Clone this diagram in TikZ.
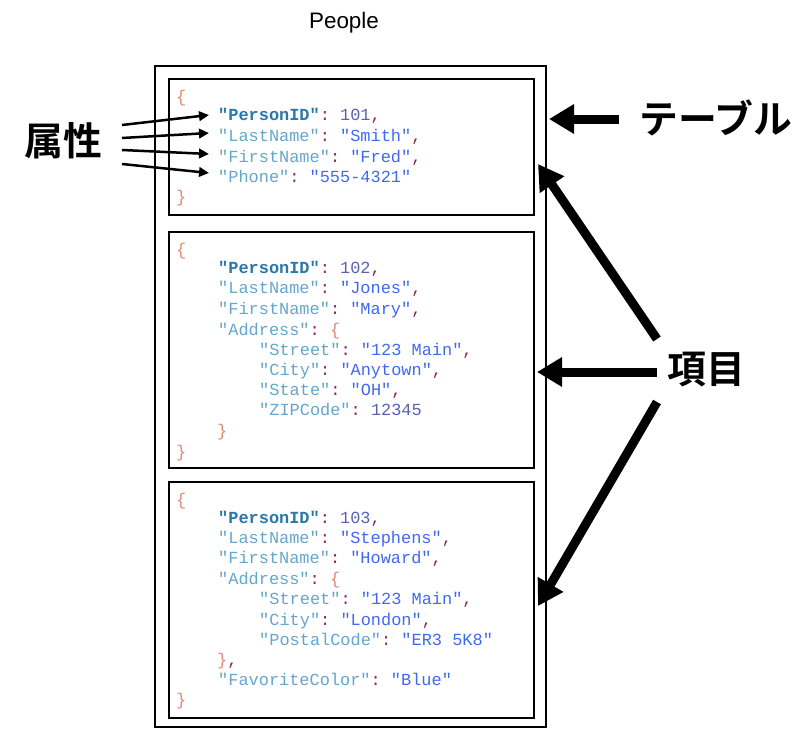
\documentclass[tikz,border=0pt]{standalone}
\usepackage{fontspec}
\setmainfont{Liberation Sans}
\setmonofont{Liberation Mono}
\newfontfamily\cjk{Noto Sans CJK JP Bold}
\usetikzlibrary{arrows.meta}
\definecolor{jbrace}{HTML}{E08A70}
\definecolor{jkey}{HTML}{64A6CC}
\definecolor{jid}{HTML}{2A78AA}
\definecolor{jpunct}{HTML}{8B2A4A}
\definecolor{jstr}{HTML}{4169F0}
\definecolor{jnum}{HTML}{5A5FB0}
\newcommand{\jk}[1]{\textcolor{jkey}{"#1"}}
\newcommand{\jid}{\textcolor{jid}{\bfseries "PersonID"}}
\newcommand{\jc}{\textcolor{jpunct}{:}\ }
\newcommand{\jcm}{\textcolor{jpunct}{,}}
\newcommand{\js}[1]{\textcolor{jstr}{"#1"}}
\newcommand{\jn}[1]{\textcolor{jnum}{#1}}
\newcommand{\jo}{\textcolor{jbrace}{\{}}
\newcommand{\jx}{\textcolor{jbrace}{\}}}
\begin{document}
\begin{tikzpicture}[x=1bp,y=-1bp,
  code/.style={anchor=base west,inner sep=0pt,font=\ttfamily\fontsize{17}{20}\selectfont},
  box/.style={draw,line width=1.3bp},
  outerbox/.style={draw,line width=2.4bp},
  thinarr/.style={line width=2.5bp,-{Triangle[length=10bp,width=9.5bp]}},
  thickarr/.style={line width=9bp,-{Triangle[length=25bp,width=28bp]}},
  big/.style={font=\cjk\fontsize{39}{42}\selectfont,inner sep=0pt}]
\useasboundingbox (0,0) rectangle (812,739);
% title
\node[font=\fontsize{22.5}{26}\selectfont] (title) at (344,23) {People};
% boxes
\draw[outerbox] (155,66) rectangle (546,727);
\draw[box] (169,79) rectangle (534,215);
\draw[box] (169,232) rectangle (534,468);
\draw[box] (169,482) rectangle (534,718);
% box 1
\node[code] (a0) at (176,102) {\jo};
\node[code] (a1) at (218,120) {\jid\jc\jn{101}\jcm};
\node[code] (a2) at (218,141) {\jk{LastName}\jc\js{Smith}\jcm};
\node[code] (a3) at (218,162) {\jk{FirstName}\jc\js{Fred}\jcm};
\node[code] (a4) at (218,182) {\jk{Phone}\jc\js{555-4321}};
\node[code] (a5) at (176,202) {\jx};
% box 2
\node[code] (b0) at (176,255) {\jo};
\node[code] (b1) at (218,273) {\jid\jc\jn{102}\jcm};
\node[code] (b2) at (218,293) {\jk{LastName}\jc\js{Jones}\jcm};
\node[code] (b3) at (218,314) {\jk{FirstName}\jc\js{Mary}\jcm};
\node[code] (b4) at (218,335) {\jk{Address}\jc\jo};
\node[code] (b5) at (259,355) {\jk{Street}\jc\js{123 Main}\jcm};
\node[code] (b6) at (259,375) {\jk{City}\jc\js{Anytown}\jcm};
\node[code] (b7) at (259,395) {\jk{State}\jc\js{OH}\jcm};
\node[code] (b8) at (259,415) {\jk{ZIPCode}\jc\jn{12345}};
\node[code] (b9) at (217,436) {\jx};
\node[code] (b10) at (176,457) {\jx};
% box 3
\node[code] (c0) at (176,505) {\jo};
\node[code] (c1) at (218,523) {\jid\jc\jn{103}\jcm};
\node[code] (c2) at (218,543) {\jk{LastName}\jc\js{Stephens}\jcm};
\node[code] (c3) at (218,563) {\jk{FirstName}\jc\js{Howard}\jcm};
\node[code] (c4) at (218,584) {\jk{Address}\jc\jo};
\node[code] (c5) at (259,604) {\jk{Street}\jc\js{123 Main}\jcm};
\node[code] (c6) at (259,625) {\jk{City}\jc\js{London}\jcm};
\node[code] (c7) at (259,645) {\jk{PostalCode}\jc\js{ER3 5K8}};
\node[code] (c8) at (217,665) {\jx\jcm};
\node[code] (c9) at (218,685) {\jk{FavoriteColor}\jc\js{Blue}};
\node[code] (c10) at (176,705) {\jx};
% labels
\node[big] (attr) at (63,141) {属性};
\node[big,anchor=west] (table) at (639,118) {テーブル};
\node[big,anchor=west] (item) at (667,370) {項目};
% attribute arrows
\coordinate (s1) at (122,125); \coordinate (e1) at (209,115);
\coordinate (s2) at (122,138); \coordinate (e2) at (209,133);
\coordinate (s3) at (122,150); \coordinate (e3) at (209,154);
\coordinate (s4) at (122,164); \coordinate (e4) at (209,173);
\draw[thinarr] (s1) -- (e1);
\draw[thinarr] (s2) -- (e2);
\draw[thinarr] (s3) -- (e3);
\draw[thinarr] (s4) -- (e4);
% thick arrows
\coordinate (tt) at (549,119);
\coordinate (i1) at (538,164);
\coordinate (i2) at (537,372);
\coordinate (i3) at (538,606);
\draw[thickarr] (table.west) ++(-20,1) coordinate (ts) -- (tt);
\draw[thickarr] (657,339) coordinate (is1) -- (i1);
\draw[thickarr] (item.west) ++(-10,2) coordinate (is2) -- (i2);
\draw[thickarr] (657,402) coordinate (is3) -- (i3);
\end{tikzpicture}
\end{document}
